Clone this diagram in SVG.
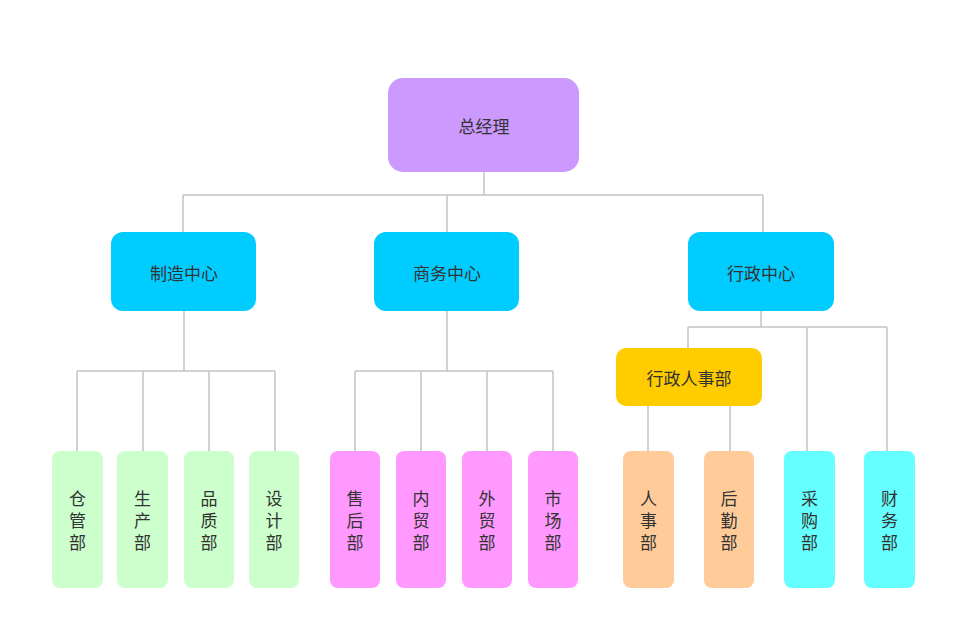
<svg xmlns="http://www.w3.org/2000/svg" width="969" height="633" viewBox="0 0 969 633">
<style>
.t{font-family:"Noto Sans CJK SC","Noto Sans",sans-serif;font-size:17px;fill:#333;text-anchor:middle;dominant-baseline:central}
.v{font-family:"Noto Sans CJK SC","Noto Sans",sans-serif;font-size:17px;fill:#333;text-anchor:middle;writing-mode:vertical-rl;letter-spacing:5px}
.l{stroke:#c4c4c4;stroke-width:1.5;fill:none}
</style>
<rect width="969" height="633" fill="#fff"/>
<g id="connectors" class="l">
<path d="M484 172V195M183 195H763M183 195V232M447 195V232M763 195V232"/>
<path d="M184 311V371M77 371H275M77 371V451M143 371V451M209 371V451M275 371V451"/>
<path d="M447 311V371M355 371H553M355 371V451M421 371V451M487 371V451M553 371V451"/>
<path d="M761 311V327M688 327H887M688 327V348M807 327V451M887 327V451"/>
<path d="M648 406V451M730 406V451"/>
</g>
<g id="n0"><rect x="388" y="78" width="191" height="94" rx="15" fill="#cc99ff"/><text class="t" x="484" y="125">总经理</text></g>
<g id="n1"><rect x="111" y="232" width="145" height="79" rx="12" fill="#00ccff"/><text class="t" x="184" y="272">制造中心</text></g>
<g id="n2"><rect x="374" y="232" width="145" height="79" rx="12" fill="#00ccff"/><text class="t" x="447" y="272">商务中心</text></g>
<g id="n3"><rect x="688" y="232" width="146" height="79" rx="12" fill="#00ccff"/><text class="t" x="761" y="272">行政中心</text></g>
<g id="n4"><rect x="616" y="348" width="146" height="58" rx="10" fill="#ffcc00"/><text class="t" x="689" y="377">行政人事部</text></g>
<g id="b1"><rect x="52" y="451" width="51" height="137" rx="8" fill="#ccffcc"/><text class="v" x="77.5" y="523">仓管部</text></g>
<g id="b2"><rect x="117" y="451" width="51" height="137" rx="8" fill="#ccffcc"/><text class="v" x="142.5" y="523">生产部</text></g>
<g id="b3"><rect x="184" y="451" width="50" height="137" rx="8" fill="#ccffcc"/><text class="v" x="209" y="523">品质部</text></g>
<g id="b4"><rect x="249" y="451" width="50" height="137" rx="8" fill="#ccffcc"/><text class="v" x="274" y="523">设计部</text></g>
<g id="b5"><rect x="330" y="451" width="50" height="137" rx="8" fill="#ff99ff"/><text class="v" x="355" y="523">售后部</text></g>
<g id="b6"><rect x="396" y="451" width="50" height="137" rx="8" fill="#ff99ff"/><text class="v" x="421" y="523">内贸部</text></g>
<g id="b7"><rect x="462" y="451" width="50" height="137" rx="8" fill="#ff99ff"/><text class="v" x="487" y="523">外贸部</text></g>
<g id="b8"><rect x="528" y="451" width="50" height="137" rx="8" fill="#ff99ff"/><text class="v" x="553" y="523">市场部</text></g>
<g id="b9"><rect x="623" y="451" width="51" height="137" rx="8" fill="#ffcc99"/><text class="v" x="648.5" y="523">人事部</text></g>
<g id="b10"><rect x="704" y="451" width="50" height="137" rx="8" fill="#ffcc99"/><text class="v" x="729" y="523">后勤部</text></g>
<g id="b11"><rect x="784" y="451" width="51" height="137" rx="8" fill="#66ffff"/><text class="v" x="809.5" y="523">采购部</text></g>
<g id="b12"><rect x="864" y="451" width="51" height="137" rx="8" fill="#66ffff"/><text class="v" x="889.5" y="523">财务部</text></g>
</svg>
